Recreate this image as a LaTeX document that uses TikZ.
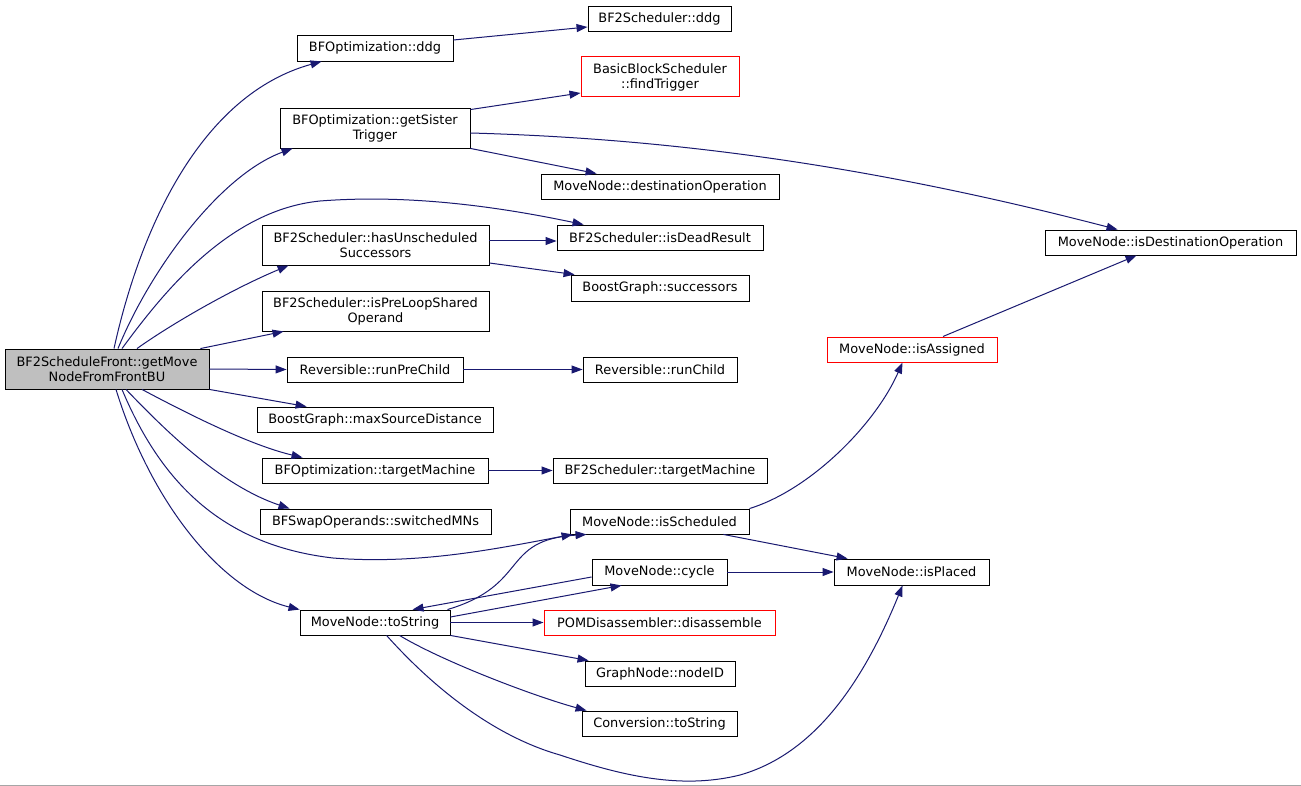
\documentclass[tikz,border=0pt]{standalone}
\usepackage{fontspec}
\setmainfont{DejaVu Sans}
\usetikzlibrary{arrows.meta}
\definecolor{edgecol}{HTML}{191970}
\definecolor{mainfill}{HTML}{BFBFBF}
\definecolor{redcol}{HTML}{FF0000}
\tikzset{
  box/.style={draw=black, line width=0.9pt, fill=white, inner sep=0pt,
    font=\fontsize{12.9}{15}\selectfont, align=center},
  redbox/.style={box, draw=redcol, line width=1pt},
  mainbox/.style={box, fill=mainfill},
  link/.style={draw=edgecol, line width=1pt, -{Triangle[length=11pt,width=8pt]}}
}
\begin{document}
\begin{tikzpicture}[x=1pt,y=-1pt]
\useasboundingbox (0,0) rectangle (1301,786);
\fill[white] (0,0) rectangle (1301,786);
\draw[gray!70, line width=1pt] (0,785.5) -- (1301,785.5);

% nodes
\node[mainbox, minimum width=204pt, minimum height=40pt] (M) at (107,369) {BF2ScheduleFront::getMove\\NodeFromFrontBU};
\node[box, minimum width=156pt, minimum height=26pt] (bfddg) at (375,48) {BFOptimization::ddg};
\node[box, minimum width=190pt, minimum height=40pt] (gst) at (375,128) {BFOptimization::getSister\\Trigger};
\node[box, minimum width=227pt, minimum height=40pt] (hus) at (375.5,245) {BF2Scheduler::hasUnscheduled\\Successors};
\node[box, minimum width=227pt, minimum height=40pt] (ipl) at (375.5,311) {BF2Scheduler::isPreLoopShared\\Operand};
\node[box, minimum width=176pt, minimum height=25pt] (rpc) at (375,369.5) {Reversible::runPreChild};
\node[box, minimum width=236pt, minimum height=25pt] (msd) at (375,419.5) {BoostGraph::maxSourceDistance};
\node[box, minimum width=226pt, minimum height=25pt] (bftm) at (375,470.5) {BFOptimization::targetMachine};
\node[box, minimum width=231pt, minimum height=25pt] (sw) at (375.5,521.5) {BFSwapOperands::switchedMNs};
\node[box, minimum width=150pt, minimum height=25pt] (ts) at (375,622.5) {MoveNode::toString};

\node[box, minimum width=143pt, minimum height=25pt] (bf2ddg) at (659.5,18.5) {BF2Scheduler::ddg};
\node[redbox, minimum width=158pt, minimum height=40pt] (ft) at (660,77) {BasicBlockScheduler\\::findTrigger};
\node[box, minimum width=238pt, minimum height=25pt] (do) at (660,186.5) {MoveNode::destinationOperation};
\node[box, minimum width=206pt, minimum height=25pt] (idr) at (660,237.5) {BF2Scheduler::isDeadResult};
\node[box, minimum width=178pt, minimum height=26pt] (suc) at (660,288) {BoostGraph::successors};
\node[box, minimum width=154pt, minimum height=25pt] (rc) at (660,369.5) {Reversible::runChild};
\node[box, minimum width=214pt, minimum height=25pt] (bf2tm) at (660,470.5) {BF2Scheduler::targetMachine};
\node[box, minimum width=179pt, minimum height=25pt] (is) at (659.5,521.5) {MoveNode::isScheduled};
\node[box, minimum width=135pt, minimum height=26pt] (cy) at (659.5,572) {MoveNode::cycle};
\node[redbox, minimum width=231pt, minimum height=25pt] (dis) at (659.5,622.5) {POMDisassembler::disassemble};
\node[box, minimum width=150pt, minimum height=25pt] (nid) at (660,673.5) {GraphNode::nodeID};
\node[box, minimum width=155pt, minimum height=25pt] (cts) at (659.5,723.5) {Conversion::toString};

\node[redbox, minimum width=170pt, minimum height=25pt] (ia) at (912,349.5) {MoveNode::isAssigned};
\node[box, minimum width=155pt, minimum height=26pt] (ip) at (911.5,572) {MoveNode::isPlaced};
\node[box, minimum width=251pt, minimum height=25pt] (ido) at (1170.5,242.5) {MoveNode::isDestinationOperation};

% edges from main node
\draw[link] ([xshift=7pt]M.north) .. controls (140,230) and (200,95) .. ([xshift=25pt]bfddg.south west);
\draw[link] ([xshift=11pt]M.north) .. controls (150,270) and (220,175) .. ([xshift=13pt]gst.south west);
\draw[link] ([xshift=15pt]M.north) .. controls (165,290) and (230,210) .. (320,201) .. controls (410,194) and (500,207) .. ([xshift=27pt]idr.north west);
\draw[link] ([xshift=30pt]M.north) .. controls (170,325) and (230,290) .. ([xshift=27pt]hus.south west);
\draw[link] ([xshift=-9pt]M.north east) -- ([xshift=22pt]ipl.south west);
\draw[link] (M.east) -- (rpc.west);
\draw[link] (M.south east) -- ([xshift=50pt]msd.north west);
\draw[link] ([xshift=35pt]M.south) .. controls (190,415) and (250,445) .. ([xshift=41pt]bftm.north west);
\draw[link] ([xshift=19pt]M.south) .. controls (165,430) and (220,485) .. ([xshift=30pt]sw.north west);
\draw[link] ([xshift=15pt]M.south) .. controls (160,480) and (220,545) .. (333,558) .. controls (420,565) and (500,548) .. ([xshift=3pt]is.south west);
\draw[link] ([xshift=9pt]M.south) .. controls (150,500) and (220,590) .. (ts.north west);

% second level
\draw[link] ([yshift=8pt]bfddg.east) -- ([yshift=-8.5pt]bf2ddg.west);
\draw[link] ([yshift=-2pt]gst.north east) -- ([yshift=-16pt]ft.west);
\draw[link] (gst.south east) -- ([xshift=56pt]do.north west);
\draw[link] ([yshift=-5pt]gst.east) .. controls (650,138) and (850,160) .. ([xshift=73pt]ido.north west);
\draw[link] ([yshift=4pt]hus.east) -- ([yshift=-3.5pt]idr.west);
\draw[link] ([yshift=-18pt]hus.east) -- ([xshift=4pt]suc.north west);
\draw[link] (rpc.east) -- (rc.west);
\draw[link] (bftm.east) -- (bf2tm.west);

% third level
\draw[link] (is.north east) .. controls (810,490) and (875,425) .. ([xshift=76pt]ia.south west);
\draw[link] ([xshift=-26pt]is.south east) -- ([xshift=14pt]ip.north west);
\draw[link] (cy.east) -- (ip.west);
\draw[link] ([xshift=31pt]ia.north) -- ([xshift=92pt]ido.south west);

% toString edges
\draw[link] ([xshift=-3pt]ts.north east) .. controls (530,585) and (500,540) .. ([xshift=17pt]is.south west);
\draw[link] ([yshift=-5pt]cy.west) -- ([xshift=113pt]ts.north west);
\draw[link] ([yshift=5.5pt]ts.east) -- ([xshift=30pt]cy.south west);
\draw[link] (ts.east) -- (dis.west);
\draw[link] (ts.south east) -- ([xshift=4pt]nid.north west);
\draw[link] ([xshift=100pt]ts.south west) .. controls (440,660) and (530,695) .. ([xshift=5pt]cts.north west);
\draw[link] ([xshift=87pt]ts.south west) .. controls (440,695) and (500,738) .. (560,755)
  .. controls (620,775) and (680,790) .. (740,775)
  .. controls (810,755) and (860,690) .. ([xshift=69pt]ip.south west);
\end{tikzpicture}
\end{document}
